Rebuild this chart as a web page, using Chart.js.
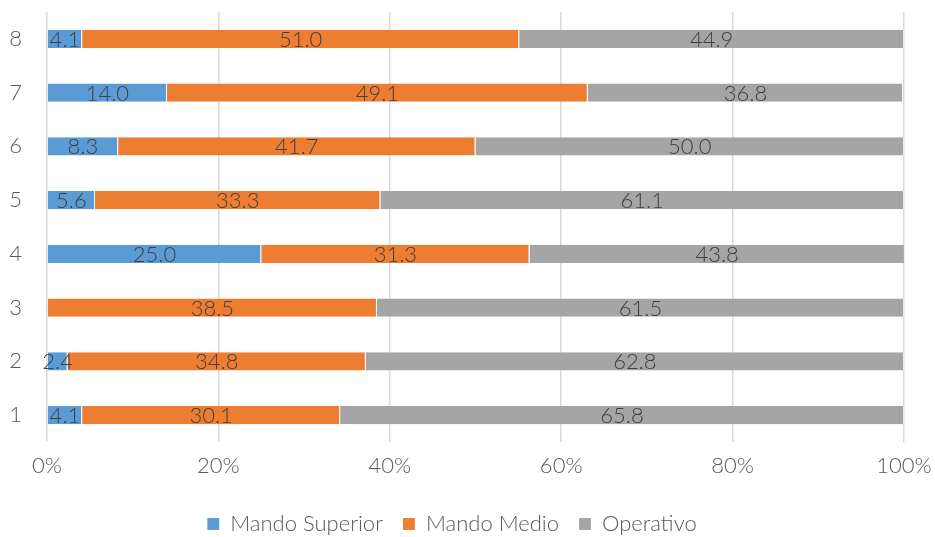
<!DOCTYPE html>
<html>
<head>
<meta charset="utf-8">
<script src="https://cdn.jsdelivr.net/npm/chart.js@4.4.0/dist/chart.umd.min.js"></script>
<style>
html,body{margin:0;padding:0;background:#fff;}
#wrap{width:935px;height:537px;position:relative;}
</style>
</head>
<body>
<div id="wrap"><canvas id="c" width="935" height="537"></canvas></div>
<script>
const categories = ['1','2','3','4','5','6','7','8'];
const mandoSuperior = [4.1, 2.4, 0, 25.0, 5.6, 8.3, 14.0, 4.1];
const mandoMedio = [30.1, 34.8, 38.5, 31.3, 33.3, 41.7, 49.1, 51.0];
const operativo = [65.8, 62.8, 61.5, 43.8, 61.1, 50.0, 36.8, 44.9];
const seriesNames = ['Mando Superior', 'Mando Medio', 'Operativo'];
const xTicks = [0, 20, 40, 60, 80, 100];

const FONT = 'Lato';
const FS = 22;
const labelPlugin = {
  id: 'barLabels',
  afterDatasetsDraw(chart) {
    const ctx = chart.ctx;
    ctx.save();
    ctx.font = '300 ' + FS + 'px ' + FONT;
    ctx.fillStyle = '#404040';
    ctx.textAlign = 'center';
    ctx.textBaseline = 'middle';
    chart.data.datasets.forEach((ds, di) => {
      const meta = chart.getDatasetMeta(di);
      meta.data.forEach((el, i) => {
        const v = ds.data[i];
        if (!v) return;
        const p = el.getProps(['x', 'y', 'base'], true);
        const cx = (p.x + p.base) / 2;
        ctx.fillText(v.toFixed(1), cx, p.y + 1);
      });
    });
    ctx.restore();
  }
};

new Chart(document.getElementById('c'), {
  type: 'bar',
  data: {
    labels: categories,
    datasets: [
      { label: seriesNames[0], data: mandoSuperior, backgroundColor: '#5B9BD5' },
      { label: seriesNames[1], data: mandoMedio, backgroundColor: '#ED7D31' },
      { label: seriesNames[2], data: operativo, backgroundColor: '#A5A5A5' }
    ]
  },
  options: {
    indexAxis: 'y',
    responsive: false,
    animation: false,
    devicePixelRatio: 1,
    layout: { padding: { left: 0, right: 31, top: 12, bottom: -8 } },
    datasets: { bar: { barPercentage: 0.335, categoryPercentage: 1.0, borderWidth: { left: 0, right: 1, top: 0, bottom: 0 }, borderColor: 'rgba(255,255,255,0.5)' } },
    scales: {
      x: {
        stacked: true,
        min: 0, max: 100,
        afterBuildTicks(scale) { scale.ticks = xTicks.map(v => ({ value: v })); },
        afterFit(scale) { scale.height = 51; scale.paddingLeft = 0; scale.paddingRight = 0; },
        grid: { color: '#d9d9d9', lineWidth: 1.5, drawTicks: false },
        border: { display: false },
        ticks: {
          color: '#595959',
          font: { family: FONT, size: FS, weight: '300' },
          padding: 11,
          callback: v => v + '%'
        }
      },
      y: {
        stacked: true,
        reverse: true,
        grid: { display: false, drawTicks: false },
        border: { display: false },
        afterFit(scale) { scale.width = 47; scale.paddingTop = 0; scale.paddingBottom = 0; },
        ticks: {
          color: '#595959',
          font: { family: FONT, size: FS, weight: '300' },
          padding: 25,
          crossAlign: 'center'
        }
      }
    },
    plugins: {
      legend: {
        position: 'bottom',
        labels: {
          color: '#595959',
          font: { family: FONT, size: FS, weight: '300' },
          boxWidth: 12,
          boxHeight: 12,
          padding: 20
        }
      },
      tooltip: { enabled: false }
    }
  },
  plugins: [labelPlugin]
});
</script>
</body>
</html>
